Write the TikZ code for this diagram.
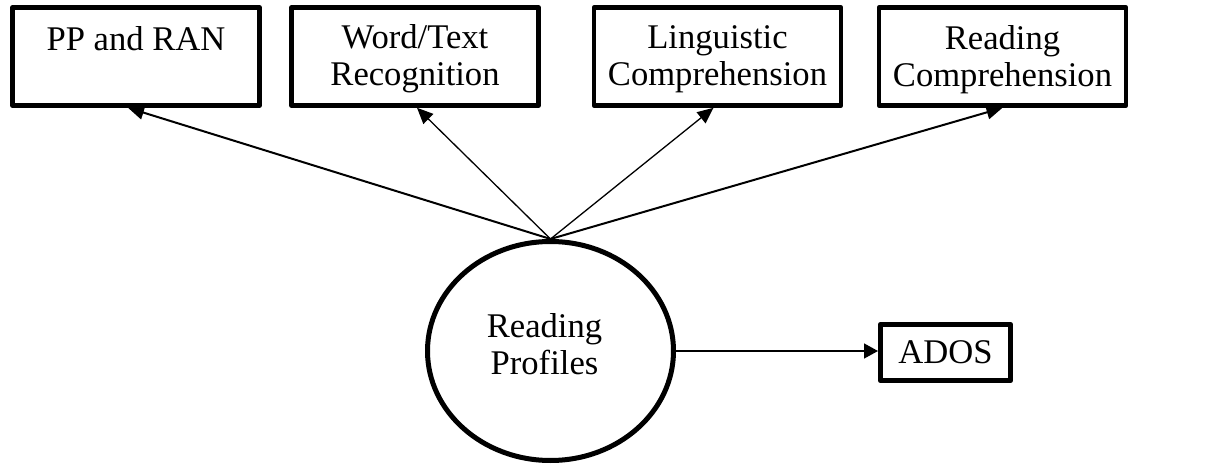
\documentclass[tikz,border=0pt]{standalone}
\usepackage{fontspec}
\setmainfont{Liberation Serif}
\usetikzlibrary{arrows.meta,shapes.geometric}

\begin{document}
\begin{tikzpicture}[
  x=0.5pt, y=-0.5pt,
  every node/.style={inner sep=0pt},
  labeltext/.style={font=\fontsize{17.3}{18.5}\selectfont, align=center},
  measure/.style={draw, line width=2.3pt, line join=round, rectangle,
                  minimum width=123.5pt, minimum height=49pt},
  link/.style={-{Triangle[length=8pt,width=7pt]}, line width=1pt},
  thinlink/.style={-{Triangle[length=8pt,width=7pt]}, line width=0.65pt},
]
\useasboundingbox (0,0) rectangle (1207,466);

% indicator boxes along the top
\node[measure] (b1) at (136,56.5) {};
\node[measure] (b2) at (415,56.5) {};
\node[measure] (b3) at (717.5,56.5) {};
\node[measure] (b4) at (1002.5,56.5) {};

\node[labeltext, anchor=north] (t1) at (136,24) {\strut PP and RAN};
\node[labeltext, anchor=north] (t2) at (415,22) {\strut Word/Text\\Recognition};
\node[labeltext, anchor=north] (t3) at (717.5,22) {\strut Linguistic\\Comprehension};
\node[labeltext, anchor=north] (t4) at (1002.5,23) {\strut Reading\\Comprehension};

% latent class variable
\node[draw, ellipse, line width=2.5pt, minimum width=123pt, minimum height=109.5pt]
  (rp) at (550.5,351) {};
\node[labeltext, anchor=north] (rpt) at (544.5,311) {\strut Reading\\Profiles};

% distal outcome
\node[draw, line width=2.3pt, line join=round, rectangle,
      minimum width=65.2pt, minimum height=28.2pt,
      font=\fontsize{17.3}{18.5}\selectfont] (ados) at (945.5,352.5) {ADOS};

% connectors
\draw[link] (rp.north) -- ([xshift=-4pt]b1.south);
\draw[thinlink] (rp.north) -- ([xshift=1pt]b2.south);
\draw[thinlink] (rp.north) -- ([xshift=-2pt]b3.south);
\draw[link] (rp.north) -- (b4.south);
\draw[-{Triangle[length=7pt,width=7.5pt]}, line width=0.75pt]
  (rp.east) -- (rp.east -| ados.west);
\end{tikzpicture}
\end{document}
